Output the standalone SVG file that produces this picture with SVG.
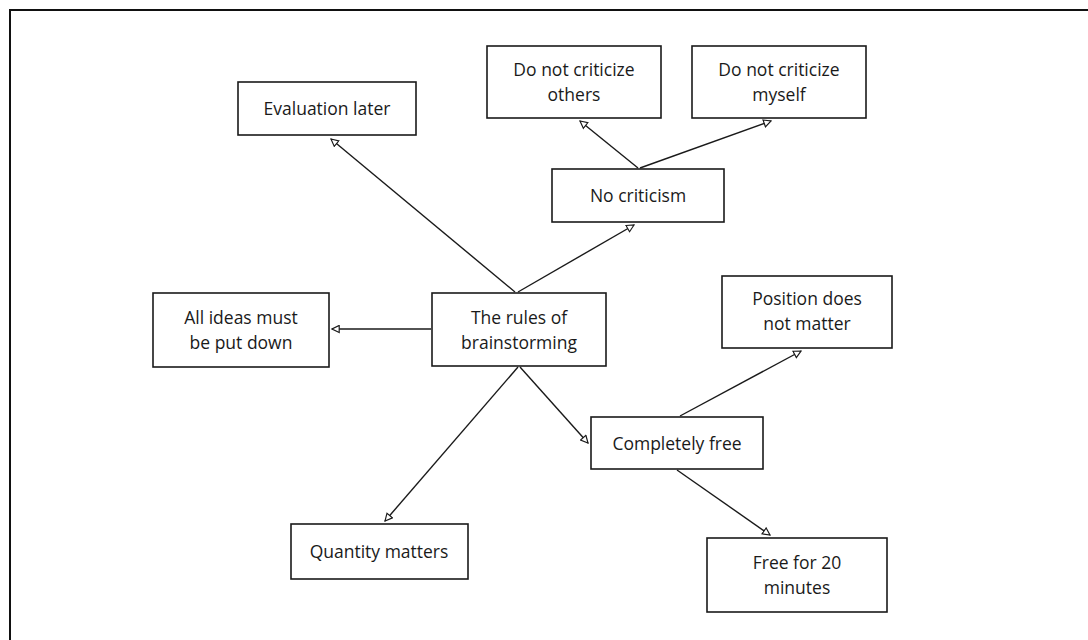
<svg xmlns="http://www.w3.org/2000/svg" width="1088" height="640" viewBox="0 0 1088 640">
<style>
.box{fill:#fff;stroke:#1a1a1a;stroke-width:1.6}
.t{font-family:"Open Sans","Liberation Sans",sans-serif;font-size:17.5px;fill:#1a1a1a;text-anchor:middle}
.c{stroke:#1a1a1a;stroke-width:1.4;fill:none;marker-end:url(#ah)}
</style>
<defs>
<marker id="ah" viewBox="0 0 10 10" refX="9" refY="5" markerWidth="9" markerHeight="9" orient="auto" markerUnits="userSpaceOnUse">
<path d="M1,1 L9,5 L1,9 Z" fill="#fff" stroke="#1a1a1a" stroke-width="1.3"/>
</marker>
</defs>
<rect width="1088" height="640" fill="#fff"/>
<g id="frame"><path d="M10,640 V10 H1088" fill="none" stroke="#111" stroke-width="2"/></g>
<g id="connectors">
<line class="c" x1="515" y1="292" x2="331" y2="139"/>
<line class="c" x1="518" y1="292" x2="634" y2="225"/>
<line class="c" x1="638" y1="168" x2="580" y2="121"/>
<line class="c" x1="640" y1="168" x2="771" y2="121"/>
<line class="c" x1="431" y1="329" x2="332" y2="329"/>
<line class="c" x1="520" y1="367" x2="588" y2="443"/>
<line class="c" x1="518" y1="367" x2="385" y2="521"/>
<line class="c" x1="680" y1="416" x2="801" y2="351"/>
<line class="c" x1="677" y1="470" x2="770" y2="535"/>
</g>
<g id="n-eval"><rect class="box" x="238" y="82" width="178" height="53"/><text class="t" x="327" y="115">Evaluation later</text></g>
<g id="n-others"><rect class="box" x="487" y="46" width="174" height="72"/><text class="t" x="574" y="76">Do not criticize</text><text class="t" x="574" y="101">others</text></g>
<g id="n-myself"><rect class="box" x="692" y="46" width="174" height="72"/><text class="t" x="779" y="76">Do not criticize</text><text class="t" x="779" y="101">myself</text></g>
<g id="n-nocrit"><rect class="box" x="552" y="169" width="172" height="53"/><text class="t" x="638" y="202">No criticism</text></g>
<g id="n-allideas"><rect class="box" x="153" y="293" width="176" height="74"/><text class="t" x="241" y="324">All ideas must</text><text class="t" x="241" y="349">be put down</text></g>
<g id="n-rules"><rect class="box" x="432" y="293" width="174" height="73"/><text class="t" x="519" y="324">The rules of</text><text class="t" x="519" y="349">brainstorming</text></g>
<g id="n-position"><rect class="box" x="722" y="276" width="170" height="72"/><text class="t" x="807" y="305">Position does</text><text class="t" x="807" y="330">not matter</text></g>
<g id="n-free"><rect class="box" x="591" y="417" width="172" height="52"/><text class="t" x="677" y="450">Completely free</text></g>
<g id="n-quantity"><rect class="box" x="291" y="524" width="177" height="55"/><text class="t" x="379" y="558">Quantity matters</text></g>
<g id="n-free20"><rect class="box" x="707" y="538" width="180" height="74"/><text class="t" x="797" y="569">Free for 20</text><text class="t" x="797" y="594">minutes</text></g>
</svg>
